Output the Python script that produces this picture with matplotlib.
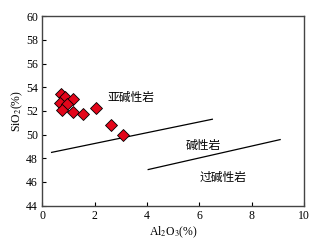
import matplotlib
matplotlib.use('Agg')
import matplotlib.pyplot as plt

plt.rcParams['mathtext.fontset'] = 'stix'

# sample points (Al2O3 %, SiO2 %)
al2o3 = [0.73, 0.89, 1.16, 0.68, 0.96, 0.76, 1.17, 1.57, 2.07, 2.61, 3.08]
sio2 = [53.39, 53.16, 53.01, 52.68, 52.62, 52.04, 51.94, 51.72, 52.21, 50.84, 50.00]

# boundary lines
line1_x = [0.36, 6.5]
line1_y = [48.5, 51.3]
line2_x = [4.05, 9.09]
line2_y = [47.05, 49.58]

# field labels
field_names = ['亚碱性岩', '碱性岩', '过碱性岩']
field_x = [3.41, 6.14, 6.89]
field_y = [53.18, 49.05, 46.4]

serif = ['Liberation Serif', 'DejaVu Serif']
cjk = ['Noto Sans CJK SC', 'DejaVu Sans']

fig = plt.figure(figsize=(3.22, 2.46), dpi=100)
ax = fig.add_axes([0.131, 0.164, 0.813, 0.770])

ax.plot(line1_x, line1_y, color='black', lw=0.9)
ax.plot(line2_x, line2_y, color='black', lw=0.9)
ax.plot(al2o3, sio2, 'D', color='#e3061a', markeredgecolor='black',
        markeredgewidth=0.6, markersize=6.3, linestyle='none')

for name, x, y in zip(field_names, field_x, field_y):
    ax.text(x, y, name, family=cjk, fontsize=8.5, ha='center', va='center')

ax.set_xlim(0, 10)
ax.set_ylim(44, 60)
ax.set_xticks([0, 2, 4, 6, 8, 10])
ax.set_yticks(range(44, 61, 2))
ax.tick_params(direction='in', length=3, width=0.8, labelsize=8.5, pad=3)
for lab in ax.get_xticklabels() + ax.get_yticklabels():
    lab.set_family(serif)
for s in ax.spines.values():
    s.set_color('#444444')
    s.set_linewidth(1.0)

ax.set_xlabel('Al$_2$O$_3$(%)', family=serif, fontsize=8.5, labelpad=2)
ax.set_ylabel('SiO$_2$(%)', family=serif, fontsize=8.5, labelpad=1)

fig.savefig('out.png', dpi=100)
